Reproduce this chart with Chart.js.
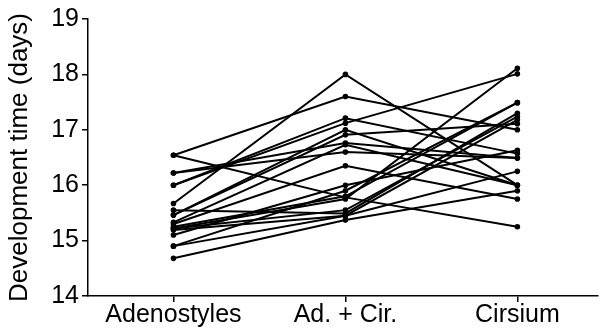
<!DOCTYPE html>
<html>
<head>
<meta charset="utf-8">
<script src="https://cdn.jsdelivr.net/npm/chart.js@4.4.1/dist/chart.umd.min.js"></script>
<style>
html,body{margin:0;padding:0;background:#fff;}
#wrap{width:602px;height:335px;position:relative;}
</style>
</head>
<body>
<div id="wrap"><canvas id="c" width="602" height="335"></canvas></div>
<script>
const categories = ["Adenostyles", "Ad. + Cir.", "Cirsium"];
const yTicks = [14, 15, 16, 17, 18, 19];
// one value per individual (index i = same individual across hosts)
const adenostyles = [16.54, 16.54, 15.67, 16.00, 16.00, 16.22, 16.22, 15.55, 15.46, 15.46, 15.33, 15.30, 15.25, 15.22, 15.22, 15.19, 15.10, 14.90, 14.90, 14.68];
const adCir       = [17.60, 15.78, 18.00, 17.21, 17.12, 16.76, 16.60, 15.49, 16.91, 17.00, 16.73, 16.35, 15.80, 15.75, 15.55, 15.45, 16.00, 15.90, 15.45, 15.37];
const cirsium     = [17.00, 15.25, 16.00, 16.57, 18.01, 16.49, 16.49, 17.30, 17.11, 16.00, 16.00, 15.75, 17.49, 18.11, 17.24, 17.18, 16.63, 17.49, 16.25, 15.90];

const datasets = adenostyles.map((v, i) => ({
  data: [{x: 0, y: adenostyles[i]}, {x: 1, y: adCir[i]}, {x: 2, y: cirsium[i]}],
  borderColor: '#000',
  backgroundColor: '#000',
  borderWidth: 2,
  pointRadius: 1.8,
  pointHoverRadius: 1.8,
  tension: 0,
  fill: false
}));

const font = {family: '"Liberation Sans", Arial, sans-serif', size: 25, lineHeight: 1.0};
const titleFont = {family: '"Liberation Sans", Arial, sans-serif', size: 26, lineHeight: 1.0};

new Chart(document.getElementById('c'), {
  type: 'line',
  data: {datasets},
  options: {
    responsive: false,
    animation: false,
    events: [],
    layout: {padding: {top: 19, right: 1, left: 0, bottom: 0}},
    plugins: {legend: {display: false}, tooltip: {enabled: false}},
    scales: {
      x: {
        type: 'linear',
        min: -0.497,
        max: 2.47,
        afterBuildTicks: s => { s.ticks = [0, 1, 2].map(v => ({value: v})); },
        afterFit: s => { s.height = 39; },
        ticks: {
          color: '#000',
          font,
          padding: 1,
          maxRotation: 0,
          autoSkip: false,
          callback: v => categories[v]
        },
        grid: {display: true, drawOnChartArea: false, drawTicks: true, tickLength: 6, color: '#000', lineWidth: 1.5},
        border: {display: true, color: '#000', width: 1.5}
      },
      y: {
        type: 'linear',
        min: 14,
        max: 19,
        afterBuildTicks: s => { s.ticks = yTicks.map(v => ({value: v})); },
        afterFit: s => { s.width = 88; },
        ticks: {color: '#000', font, padding: 3},
        title: {display: true, text: 'Development time (days)', color: '#000', font: titleFont, padding: {top: 7, bottom: 0}},
        grid: {display: true, drawOnChartArea: false, drawTicks: true, tickLength: 6, color: '#000', lineWidth: 1.5},
        border: {display: true, color: '#000', width: 1.5}
      }
    }
  }
});
</script>
</body>
</html>
